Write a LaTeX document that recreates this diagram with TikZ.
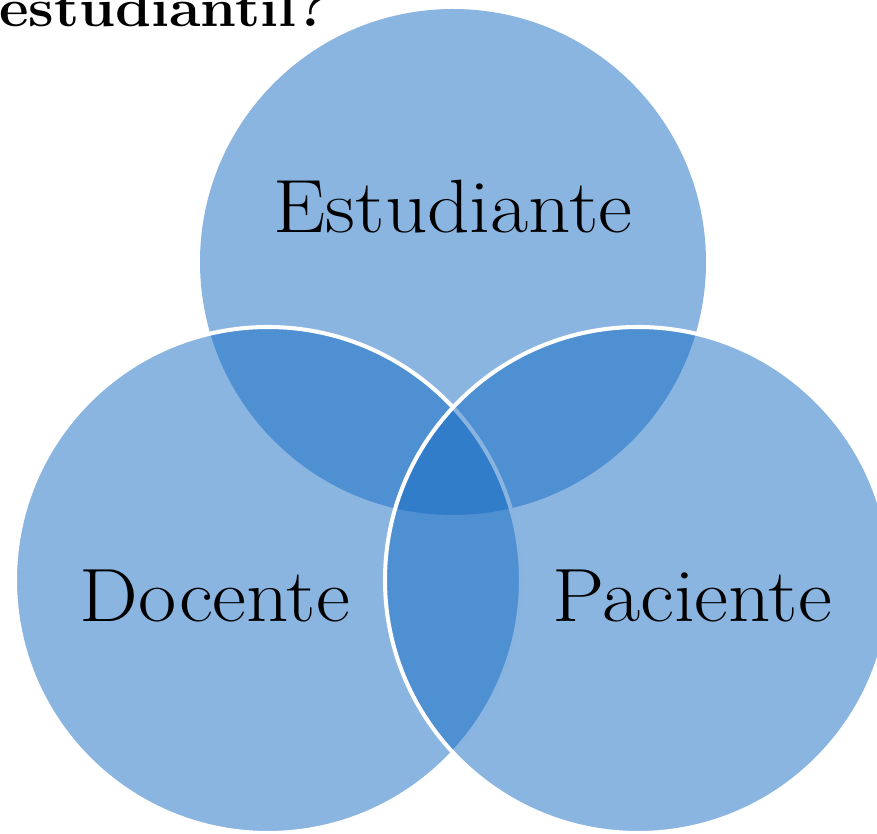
\documentclass[tikz,border=0pt]{standalone}
\usepackage{graphicx}
\usepackage{tikz}
\usetikzlibrary{calc}

% Wider setting of the labels
\newcommand{\widetext}[2][1.1]{\scalebox{#1}[1]{#2}}

\begin{document}
\begin{tikzpicture}[x=0.02cm, y=-0.02cm,
    venn/.style={fill={rgb,255:red,21;green,107;blue,195}, fill opacity=0.5},
    rim/.style={draw=white, line width=2.3pt},
    vennlabel/.style={anchor=base, font=\fontsize{43}{50}\selectfont}]
    % Fix the page to the picture size
    \useasboundingbox (0,0) rectangle (877,834);
    \clip (0,0) rectangle (877,834);
    
    % Define the centres of the three circles
    \coordinate (E) at (453,262); % Estudiante, on top
    \coordinate (D) at (268,580); % Docente, lower left
    \coordinate (P) at (638,580); % Paciente, lower right
    \def\rad{253}
    
    % Draw the top circle, then the two lower ones with a white rim
    \fill[venn] (E) circle[radius=\rad];
    \foreach \point in {D, P} {
        \fill[venn] (\point) circle[radius=\rad];
        \draw[rim] (\point) circle[radius=\rad];
    }
    
    % Title, cut at the top edge
    \node[anchor=base west, inner sep=0pt, font=\bfseries\fontsize{30.6}{36}\selectfont] (title) at (-1,27) {\widetext[1.07]{estudiantil?}};
    
    % Labels of the circles
    \node[vennlabel] (estudiante) at (453,233) {\widetext{Estudiante}};
    \node[vennlabel] (docente) at (215,622) {\widetext{Docente}};
    \node[vennlabel] (paciente) at (692,622) {\widetext{Paciente}};
\end{tikzpicture}
\end{document}
